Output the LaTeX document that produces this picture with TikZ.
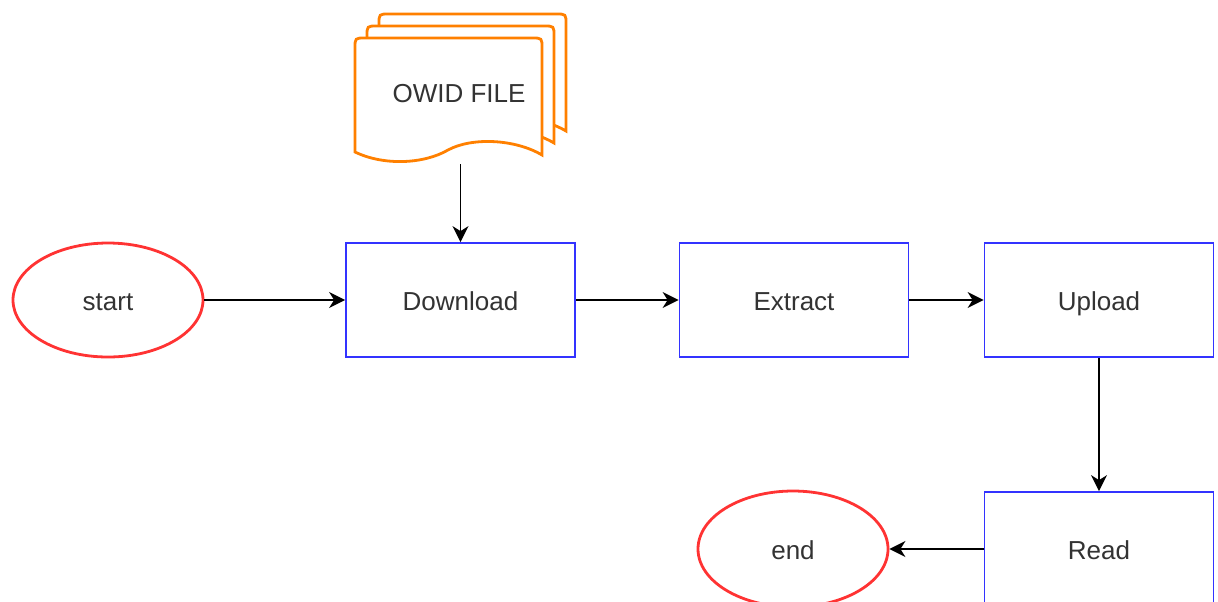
\documentclass[tikz,border=0pt]{standalone}
\usepackage{fontspec}
\setmainfont{Liberation Sans}
\usepackage{xcolor}
\usetikzlibrary{shapes.geometric, arrows.meta, positioning, calc}

\definecolor{stepblue}{HTML}{3333FF}
\definecolor{termred}{HTML}{FF3333}
\definecolor{docorange}{HTML}{FF8000}
\definecolor{txtgray}{HTML}{333333}

\tikzset{
  label font/.style={text=txtgray, font=\fontsize{13}{15}\selectfont, text height=11.5pt, text depth=1.5pt},
  stepbox/.style={draw=stepblue, line width=0.9pt, fill=white, rectangle,
    minimum width=114.5pt, minimum height=57pt, label font},
  terminal/.style={draw=termred, line width=1.4pt, ellipse,
    minimum width=95pt, minimum height=57pt, label font},
  docpage/.style={draw=docorange, line width=1.4pt, fill=white},
  flow/.style={-{Stealth[length=8pt, width=8pt, inset=2.5pt]}, line width=0.8pt},
}

\begin{document}
\begin{tikzpicture}[x=0.5pt, y=-0.5pt]
      \useasboundingbox (0,0) rectangle (1218,601);

      % stacked file pages, back to front
      \foreach \s in {24,12,0} {
        \draw[docpage, shift={(\s,-\s)}] (355,152) -- (355,48) .. controls (355,38) .. (365,38)
          -- (532,38) .. controls (542,38) .. (542,48) -- (542,155)
          .. controls (515,139) and (472,137) .. (448,150)
          .. controls (424,164) and (384,166) .. (355,152) -- cycle;
      }
      \node[label font] (owid) at (459,92) {OWID FILE};

      \node[terminal] (start) at (108,300) {start};
      \node[stepbox] (download) at (460.5,300) {Download};
      \node[stepbox] (extract) at (794,300) {Extract};
      \node[stepbox] (upload) at (1099,300) {Upload};
      \node[stepbox] (read) at (1099,549) {Read};
      \node[terminal, minimum height=58pt] (end) at (793,549) {end};

      \coordinate (owidfoot) at ($(download.north)+(0,-78)$);

      \draw[flow] (owidfoot) -- (download.north);
      \draw[flow] (start.east) -- (download.west);
      \draw[flow] (download.east) -- (extract.west);
      \draw[flow] (extract.east) -- (upload.west);
      \draw[flow] (upload.south) -- (read.north);
      \draw[flow] (read.west) -- (end.east);
    \end{tikzpicture}
\end{document}
